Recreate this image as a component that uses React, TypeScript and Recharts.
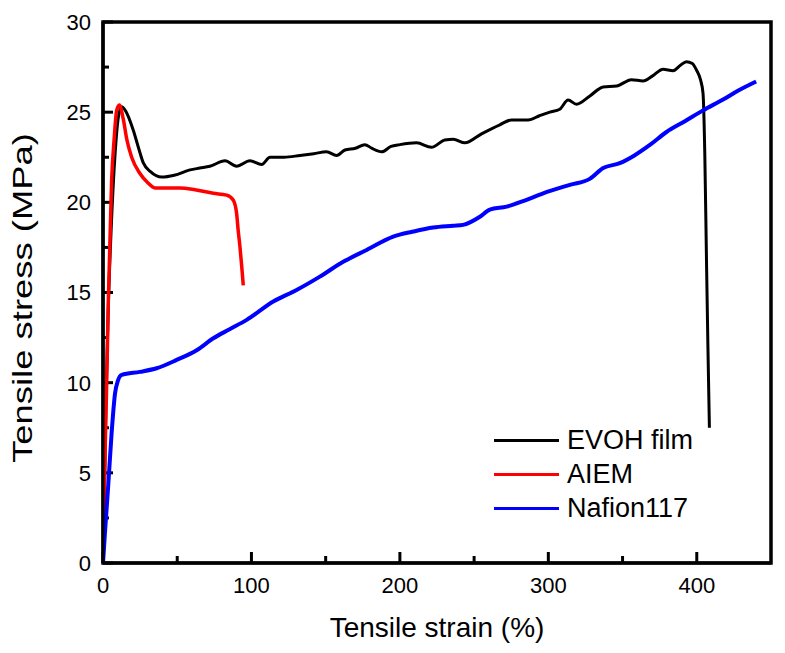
import React from 'react';
import { Line, LineChart, ReferenceArea, ReferenceLine, XAxis, YAxis } from 'recharts';

const FONT = '"Liberation Sans", Arial, sans-serif';

// EVOH film
const evohStrain = [0, 1, 2, 3.5, 5.5, 8, 10.5, 12.6, 15, 20.4, 24, 27.1, 32, 39.5, 48, 58.6, 65.3, 72, 82.2, 90, 99, 106.9, 112.5, 122, 132.7, 142, 150.6, 157.4, 163, 170, 176.4, 181, 187.7, 194, 200, 211.2, 221.3, 230.3, 236, 243.8, 255, 267.3, 275.2, 286.4, 294, 301, 307.7, 313.3, 319, 328, 336.9, 346, 356, 363.8, 370, 377.3, 384, 389, 393, 397, 399.8, 402.5, 404.2, 405.4, 406.5, 407.5, 408.5];
const evohStress = [0, 4, 9, 14, 18.5, 22.5, 24.8, 25.3, 25.1, 24.0, 23, 22.2, 21.7, 21.4, 21.5, 21.8, 21.9, 22.0, 22.3, 22.0, 22.3, 22.1, 22.5, 22.5, 22.6, 22.7, 22.8, 22.6, 22.9, 23.0, 23.2, 23.0, 22.8, 23.1, 23.2, 23.3, 23.05, 23.46, 23.5, 23.3, 23.8, 24.3, 24.57, 24.57, 24.8, 25.0, 25.16, 25.68, 25.44, 25.9, 26.4, 26.45, 26.8, 26.73, 27.0, 27.38, 27.3, 27.6, 27.8, 27.7, 27.34, 26.8, 26.05, 22.7, 17, 12, 7.5];

// AIEM
const aiemStrain = [0, 0.7, 2.5, 3.6, 5.8, 7.5, 9.2, 11, 13.7, 16, 19.3, 24.9, 30, 35, 51.9, 62, 74.3, 83.3, 87.7, 90, 91, 92.3, 93.5, 94.5];
const aiemStress = [0, 3.5, 10, 14.6, 21.2, 23.5, 25.1, 25.4, 24.6, 23.5, 22.5, 21.6, 21.1, 20.8, 20.8, 20.7, 20.5, 20.4, 20.13, 19.4, 18.5, 17.5, 16.4, 15.4];

// Nafion117
const nafionStrain = [0, 1.3, 3.6, 5.8, 8.1, 10, 12.6, 24.9, 36.1, 49.6, 63.1, 74.3, 85, 96.8, 114.7, 130.4, 146.1, 161.8, 177.6, 195.5, 209, 222.4, 236, 242.6, 253.9, 260.6, 271.9, 284, 296.5, 314.5, 327.9, 336.9, 348.1, 358, 368.4, 379.6, 392, 404.2, 417.7, 428, 440];
const nafionStress = [0, 1.65, 4.4, 7.2, 9.4, 10.1, 10.43, 10.6, 10.8, 11.26, 11.8, 12.46, 12.95, 13.48, 14.5, 15.14, 15.88, 16.7, 17.36, 18.1, 18.38, 18.6, 18.7, 18.75, 19.2, 19.6, 19.76, 20.1, 20.5, 20.97, 21.3, 21.9, 22.17, 22.6, 23.18, 23.9, 24.5, 25.1, 25.7, 26.2, 26.7];

const xTicks = [0, 50, 100, 150, 200, 250, 300, 350, 400];
const yTicks = [0, 2.5, 5, 7.5, 10, 12.5, 15, 17.5, 20, 22.5, 25, 27.5, 30];

const X_MAX = 450;
const Y_MAX = 30;
// plot size in px, used to turn tick lengths in px into axis units
const PLOT_W = 668;
const PLOT_H = 541;

const toPoints = (xs: number[], ys: number[]) => xs.map((x, i) => ({ x, y: ys[i] }));

const series = [
  { name: 'EVOH film', color: '#000000', width: 3, data: toPoints(evohStrain, evohStress) },
  { name: 'AIEM', color: '#ff0000', width: 3.5, data: toPoints(aiemStrain, aiemStress) },
  { name: 'Nafion117', color: '#0000ff', width: 4, data: toPoints(nafionStrain, nafionStress) },
];

function XTick({ x, y, payload }: any) {
  if (payload.value % 100 !== 0) return <g />;
  return (
    <text x={x} y={y + 30} textAnchor="middle" fontSize={22} fontFamily={FONT} fill="#000">
      {payload.value}
    </text>
  );
}

function YTick({ x, y, payload }: any) {
  if (payload.value % 5 !== 0) return <g />;
  return (
    <text x={x - 12} y={y} dy="0.36em" textAnchor="end" fontSize={22} fontFamily={FONT} fill="#000">
      {payload.value}
    </text>
  );
}

export default function App() {
  return (
    <div style={{ position: 'relative', width: 785, height: 653, background: '#fff' }}>
      <style>{'body{margin:0}'}</style>
      <LineChart width={785} height={653} margin={{ top: 22, right: 14, left: 0, bottom: 0 }}>
        <XAxis
          type="number"
          dataKey="x"
          domain={[0, X_MAX]}
          ticks={xTicks}
          interval={0}
          height={90}
          tickSize={0}
          tickMargin={0}
          tickLine={false}
          axisLine={{ stroke: '#000', strokeWidth: 3 }}
          tick={<XTick />}
          allowDataOverflow
        />
        <YAxis
          type="number"
          dataKey="y"
          domain={[0, Y_MAX]}
          ticks={yTicks}
          interval={0}
          width={103}
          tickSize={0}
          tickMargin={0}
          tickLine={false}
          axisLine={{ stroke: '#000', strokeWidth: 3 }}
          tick={<YTick />}
          allowDataOverflow
        />
        <ReferenceArea x1={0} x2={X_MAX} y1={0} y2={Y_MAX} fill="none" stroke="#000" strokeWidth={3.5} />
        {xTicks.map((t) => {
          const len = ((t % 100 === 0 ? 11 : 7) / PLOT_H) * Y_MAX;
          return (
            <ReferenceLine
              key={`xt-${t}`}
              segment={[{ x: t, y: 0 }, { x: t, y: len }]}
              stroke="#000"
              strokeWidth={3}
            />
          );
        })}
        {yTicks.map((t) => {
          const len = ((t % 5 === 0 ? 10 : 6) / PLOT_W) * X_MAX;
          return (
            <ReferenceLine
              key={`yt-${t}`}
              segment={[{ x: 0, y: t }, { x: len, y: t }]}
              stroke="#000"
              strokeWidth={3}
            />
          );
        })}
        {series.map((s) => (
          <Line
            key={s.name}
            data={s.data}
            dataKey="y"
            name={s.name}
            type="monotone"
            stroke={s.color}
            strokeWidth={s.width}
            dot={false}
            isAnimationActive={false}
          />
        ))}
      </LineChart>
      <div style={{ position: 'absolute', left: 494, top: 423, fontFamily: FONT, fontSize: 27 }}>
        {series.map((s) => (
          <div key={s.name} style={{ display: 'flex', alignItems: 'center', height: 34 }}>
            <span style={{ width: 65, height: 3, background: s.color, marginRight: 8 }} />
            <span>{s.name}</span>
          </div>
        ))}
      </div>
      <div
        style={{
          position: 'absolute',
          left: 437,
          top: 628,
          transform: 'translate(-50%, -50%)',
          fontFamily: FONT,
          fontSize: 28,
          whiteSpace: 'nowrap',
        }}
      >
        Tensile strain (%)
      </div>
      <div
        style={{
          position: 'absolute',
          left: 23,
          top: 298,
          transform: 'translate(-50%, -50%) rotate(-90deg) scaleX(1.3)',
          fontFamily: FONT,
          fontSize: 28,
          whiteSpace: 'nowrap',
        }}
      >
        Tensile stress (MPa)
      </div>
    </div>
  );
}
